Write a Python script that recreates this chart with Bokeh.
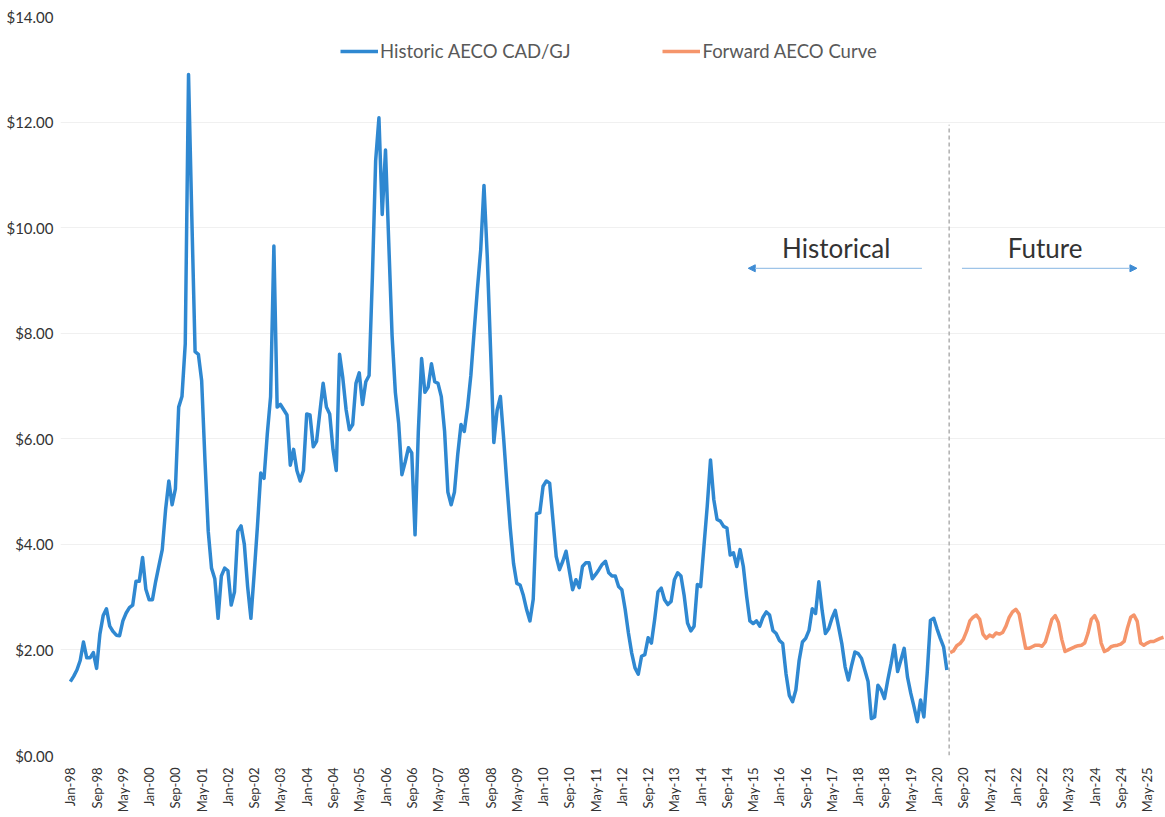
import math
from bokeh.plotting import figure
from bokeh.models import (Range1d, FixedTicker, Legend, LegendItem, Arrow,
                          NormalHead, Label, NumeralTickFormatter)
from bokeh.embed import file_html
from bokeh.resources import INLINE

# Monthly AECO price, CAD/GJ, Jan-98 .. Apr-20
historic = [
    1.40, 1.50, 1.62, 1.80, 2.15, 1.85, 1.85, 1.95, 1.65, 2.30, 2.65, 2.78,
    2.45, 2.35, 2.28, 2.27, 2.55, 2.70, 2.80, 2.85, 3.30, 3.30, 3.75, 3.15,
    2.95, 2.95, 3.30, 3.60, 3.90, 4.65, 5.20, 4.75, 5.05, 6.60, 6.80, 7.80,
    12.90, 10.20, 7.65, 7.60, 7.10, 5.60, 4.25, 3.55, 3.35, 2.60, 3.40, 3.55,
    3.50, 2.85, 3.10, 4.25, 4.35, 4.00, 3.20, 2.60, 3.45, 4.35, 5.35, 5.25,
    6.10, 6.80, 9.65, 6.60, 6.65, 6.55, 6.45, 5.50, 5.80, 5.40, 5.20, 5.40,
    6.47, 6.45, 5.85, 5.95, 6.50, 7.05, 6.60, 6.47, 5.80, 5.40, 7.60, 7.15,
    6.55, 6.17, 6.27, 7.05, 7.25, 6.65, 7.08, 7.20, 9.05, 11.27, 12.08, 10.25,
    11.47, 9.70, 7.96, 6.88, 6.30, 5.32, 5.56, 5.83, 5.73, 4.18, 6.14, 7.52,
    6.88, 6.98, 7.42, 7.08, 7.05, 6.80, 6.14, 4.99, 4.75, 4.99, 5.70, 6.27,
    6.14, 6.60, 7.20, 8.03, 8.84, 9.58, 10.80, 9.45, 7.70, 5.93, 6.54, 6.80,
    6.00, 5.12, 4.31, 3.64, 3.26, 3.23, 3.03, 2.76, 2.55, 2.96, 4.58, 4.60,
    5.10, 5.20, 5.16, 4.47, 3.77, 3.52, 3.68, 3.87, 3.50, 3.14, 3.33, 3.18,
    3.58, 3.65, 3.65, 3.35, 3.43, 3.52, 3.62, 3.68, 3.46, 3.40, 3.40, 3.20,
    3.14, 2.77, 2.32, 1.94, 1.66, 1.54, 1.88, 1.91, 2.23, 2.13, 2.58, 3.10,
    3.17, 2.95, 2.86, 2.92, 3.33, 3.46, 3.40, 3.02, 2.51, 2.36, 2.45, 3.24,
    3.20, 3.96, 4.72, 5.60, 4.85, 4.47, 4.44, 4.34, 4.31, 3.80, 3.84, 3.58,
    3.90, 3.58, 3.02, 2.55, 2.50, 2.55, 2.45, 2.62, 2.72, 2.66, 2.37, 2.31,
    2.18, 2.12, 1.55, 1.14, 1.02, 1.24, 1.80, 2.15, 2.22, 2.37, 2.78, 2.69,
    3.29, 2.75, 2.31, 2.40, 2.60, 2.75, 2.44, 2.12, 1.68, 1.43, 1.71, 1.96,
    1.93, 1.84, 1.62, 1.40, 0.70, 0.73, 1.33, 1.24, 1.08, 1.43, 1.74, 2.09,
    1.59, 1.81, 2.03, 1.49, 1.18, 0.92, 0.64, 1.05, 0.73, 1.55, 2.56, 2.60,
    2.40, 2.22, 2.06, 1.62,
]

# Forward AECO curve, May-20 .. Oct-25
forward = [
    1.95, 1.98, 2.08, 2.12, 2.20, 2.35, 2.55, 2.62,
    2.66, 2.58, 2.30, 2.22, 2.28, 2.25, 2.32, 2.30, 2.33, 2.45, 2.62, 2.72,
    2.77, 2.68, 2.35, 2.03, 2.03, 2.06, 2.09, 2.09, 2.07, 2.15, 2.36, 2.58,
    2.65, 2.52, 2.20, 1.97, 2.00, 2.03, 2.06, 2.08, 2.09, 2.13, 2.32, 2.58,
    2.65, 2.52, 2.13, 1.97, 2.00, 2.06, 2.08, 2.09, 2.11, 2.16, 2.41, 2.62,
    2.66, 2.54, 2.13, 2.09, 2.13, 2.16, 2.16, 2.19, 2.22, 2.24,
]

tick_labels = [
    "Jan-98", "Sep-98", "May-99", "Jan-00", "Sep-00", "May-01", "Jan-02",
    "Sep-02", "May-03", "Jan-04", "Sep-04", "May-05", "Jan-06", "Sep-06",
    "May-07", "Jan-08", "Sep-08", "May-09", "Jan-10", "Sep-10", "May-11",
    "Jan-12", "Sep-12", "May-13", "Jan-14", "Sep-14", "May-15", "Jan-16",
    "Sep-16", "May-17", "Jan-18", "Sep-18", "May-19", "Jan-20", "Sep-20",
    "May-21", "Jan-22", "Sep-22", "May-23", "Jan-24", "Sep-24", "May-25",
]
tick_step = 8  # months between labels

series_names = ["Historic AECO CAD/GJ", "Forward AECO Curve"]

hist_x = list(range(len(historic)))
fwd_x = list(range(len(historic), len(historic) + len(forward)))

FONT = "Lato"
BLUE = "#2f88d1"
ORANGE = "#f5956b"

p = figure(width=1165, height=815, output_backend="svg", toolbar_location=None,
           x_range=Range1d(-3.0, fwd_x[-1] + 0.6), y_range=Range1d(0, 14),
           min_border_left=60, min_border_right=0, min_border_top=16,
           min_border_bottom=59)
p.outline_line_color = None
p.background_fill_color = "white"
p.border_fill_color = "white"

p.xgrid.visible = False
p.ygrid.grid_line_color = "#f0f0f0"
p.ygrid.grid_line_width = 1

p.yaxis.ticker = FixedTicker(ticks=list(range(0, 15, 2)))
p.yaxis.formatter = NumeralTickFormatter(format="$0.00")
p.yaxis.axis_line_color = None
p.yaxis.major_tick_line_color = None
p.yaxis.minor_tick_line_color = None
p.yaxis.major_label_standoff = 1
p.yaxis.major_label_text_font = FONT
p.yaxis.major_label_text_font_size = "15px"
p.yaxis.major_label_text_color = "#333333"

ticks = [i * tick_step for i in range(len(tick_labels))]
p.xaxis.ticker = FixedTicker(ticks=ticks)
p.xaxis.major_label_overrides = {t: lab for t, lab in zip(ticks, tick_labels)}
p.xaxis.major_label_orientation = math.pi / 2
p.xaxis.axis_line_color = None
p.xaxis.major_tick_line_color = None
p.xaxis.minor_tick_line_color = None
p.xaxis.major_label_standoff = 6
p.xaxis.major_label_text_font = FONT
p.xaxis.major_label_text_font_size = "13px"
p.xaxis.major_label_text_color = "#333333"

# divider between historic and forward
div_x = len(historic) - 0.3
p.segment(x0=[div_x], y0=[0], x1=[div_x], y1=[11.95], line_color="#b0b0b0",
          line_width=1.5, line_dash="4 3")

r1 = p.line(hist_x, historic, line_color=BLUE, line_width=3.5,
            line_join="round")
r2 = p.line(fwd_x, forward, line_color=ORANGE, line_width=3.5,
            line_join="round")

legend = Legend(items=[LegendItem(label=series_names[0], renderers=[r1]),
                       LegendItem(label=series_names[1], renderers=[r2])],
                orientation="horizontal", location=(280, 693),
                glyph_width=38, glyph_height=20, label_standoff=2,
                spacing=92, padding=0, margin=0, label_height=20,
                border_line_color=None, background_fill_alpha=0,
                label_text_font=FONT, label_text_font_size="18.5px",
                label_text_color="#595959")
p.add_layout(legend)

# annotations
p.add_layout(Label(x=233.3, y=9.61, text="Historical", text_align="center",
                   text_baseline="middle", text_font=FONT,
                   text_font_size="26px", text_color="#333333"))
p.add_layout(Label(x=296.9, y=9.61, text="Future", text_align="center",
                   text_baseline="middle", text_font=FONT,
                   text_font_size="26px", text_color="#333333"))
head_l = NormalHead(size=7, fill_color="#3f8cd4", line_color="#3f8cd4")
head_r = NormalHead(size=7, fill_color="#3f8cd4", line_color="#3f8cd4")
p.add_layout(Arrow(x_start=259.4, y_start=9.23, x_end=206.5, y_end=9.23,
                   end=head_l, line_color="#9ec4e8", line_width=1.3))
p.add_layout(Arrow(x_start=271.6, y_start=9.23, x_end=324.9, y_end=9.23,
                   end=head_r, line_color="#9ec4e8", line_width=1.3))

open("out.html", "w").write(file_html(p, INLINE))
